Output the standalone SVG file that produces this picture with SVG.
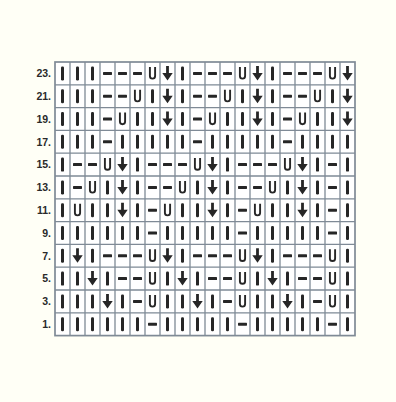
<svg xmlns="http://www.w3.org/2000/svg" xmlns:xlink="http://www.w3.org/1999/xlink" width="396" height="402" viewBox="0 0 396 402">
<style>
.lbl{font-family:"Liberation Sans",Arial,sans-serif;font-size:10.5px;font-weight:bold;fill:#2a2a2a;text-anchor:end}
.grid{stroke:#7f8a96;stroke-width:1.3;fill:none}
.sym{fill:#262626}
</style>
<defs>
<rect id="b" x="-1.5" y="-7" width="3" height="14" rx="1.2" class="sym"/>
<rect id="d" x="-4.5" y="-1.5" width="9" height="3" rx="0.6" class="sym"/>
<path id="u" d="M-2.6,-6.5 V2.6 A2.6,2.6 0 0 0 2.6,2.6 V-6.5" fill="none" stroke="#262626" stroke-width="1.9"/>
<path id="a" d="M-1.4,-7.5 H1.4 V-0.5 H5.2 L0,7 L-5.2,-0.5 H-1.4 Z" class="sym"/>
</defs>
<rect width="396" height="402" fill="#fffff6"/>
<rect x="55" y="62" width="300" height="273.6" fill="#ffffff"/>
<g id="gridlines" class="grid">
<rect x="55" y="62" width="300" height="273.6" stroke-width="1.7"/>
<path d="M70,62V335.6M85,62V335.6M100,62V335.6M115,62V335.6M130,62V335.6M145,62V335.6M160,62V335.6M175,62V335.6M190,62V335.6M205,62V335.6M220,62V335.6M235,62V335.6M250,62V335.6M265,62V335.6M280,62V335.6M295,62V335.6M310,62V335.6M325,62V335.6M340,62V335.6"/>
<path d="M55,84.8H355M55,107.6H355M55,130.4H355M55,153.2H355M55,176H355M55,198.8H355M55,221.6H355M55,244.4H355M55,267.2H355M55,290H355M55,312.8H355"/>
</g>
<g id="labels">
<text class="lbl" x="51" y="77.2">23.</text>
<text class="lbl" x="51" y="100">21.</text>
<text class="lbl" x="51" y="122.8">19.</text>
<text class="lbl" x="51" y="145.6">17.</text>
<text class="lbl" x="51" y="168.4">15.</text>
<text class="lbl" x="51" y="191.2">13.</text>
<text class="lbl" x="51" y="214">11.</text>
<text class="lbl" x="51" y="236.8">9.</text>
<text class="lbl" x="51" y="259.6">7.</text>
<text class="lbl" x="51" y="282.4">5.</text>
<text class="lbl" x="51" y="305.2">3.</text>
<text class="lbl" x="51" y="328">1.</text>
</g>
<g id="row23" transform="translate(0,73.4)">
<use href="#b" x="62.5"/><use href="#b" x="77.5"/><use href="#b" x="92.5"/><use href="#d" x="107.5"/><use href="#d" x="122.5"/><use href="#d" x="137.5"/><use href="#u" x="152.5"/><use href="#a" x="167.5"/><use href="#b" x="182.5"/><use href="#d" x="197.5"/><use href="#d" x="212.5"/><use href="#d" x="227.5"/><use href="#u" x="242.5"/><use href="#a" x="257.5"/><use href="#b" x="272.5"/><use href="#d" x="287.5"/><use href="#d" x="302.5"/><use href="#d" x="317.5"/><use href="#u" x="332.5"/><use href="#a" x="347.5"/>
</g>
<g id="row21" transform="translate(0,96.2)">
<use href="#b" x="62.5"/><use href="#b" x="77.5"/><use href="#b" x="92.5"/><use href="#d" x="107.5"/><use href="#d" x="122.5"/><use href="#u" x="137.5"/><use href="#b" x="152.5"/><use href="#a" x="167.5"/><use href="#b" x="182.5"/><use href="#d" x="197.5"/><use href="#d" x="212.5"/><use href="#u" x="227.5"/><use href="#b" x="242.5"/><use href="#a" x="257.5"/><use href="#b" x="272.5"/><use href="#d" x="287.5"/><use href="#d" x="302.5"/><use href="#u" x="317.5"/><use href="#b" x="332.5"/><use href="#a" x="347.5"/>
</g>
<g id="row19" transform="translate(0,119)">
<use href="#b" x="62.5"/><use href="#b" x="77.5"/><use href="#b" x="92.5"/><use href="#d" x="107.5"/><use href="#u" x="122.5"/><use href="#b" x="137.5"/><use href="#b" x="152.5"/><use href="#a" x="167.5"/><use href="#b" x="182.5"/><use href="#d" x="197.5"/><use href="#u" x="212.5"/><use href="#b" x="227.5"/><use href="#b" x="242.5"/><use href="#a" x="257.5"/><use href="#b" x="272.5"/><use href="#d" x="287.5"/><use href="#u" x="302.5"/><use href="#b" x="317.5"/><use href="#b" x="332.5"/><use href="#a" x="347.5"/>
</g>
<g id="row17" transform="translate(0,141.8)">
<use href="#b" x="62.5"/><use href="#b" x="77.5"/><use href="#b" x="92.5"/><use href="#d" x="107.5"/><use href="#b" x="122.5"/><use href="#b" x="137.5"/><use href="#b" x="152.5"/><use href="#b" x="167.5"/><use href="#b" x="182.5"/><use href="#d" x="197.5"/><use href="#b" x="212.5"/><use href="#b" x="227.5"/><use href="#b" x="242.5"/><use href="#b" x="257.5"/><use href="#b" x="272.5"/><use href="#d" x="287.5"/><use href="#b" x="302.5"/><use href="#b" x="317.5"/><use href="#b" x="332.5"/><use href="#b" x="347.5"/>
</g>
<g id="row15" transform="translate(0,164.6)">
<use href="#b" x="62.5"/><use href="#d" x="77.5"/><use href="#d" x="92.5"/><use href="#u" x="107.5"/><use href="#a" x="122.5"/><use href="#b" x="137.5"/><use href="#d" x="152.5"/><use href="#d" x="167.5"/><use href="#d" x="182.5"/><use href="#u" x="197.5"/><use href="#a" x="212.5"/><use href="#b" x="227.5"/><use href="#d" x="242.5"/><use href="#d" x="257.5"/><use href="#d" x="272.5"/><use href="#u" x="287.5"/><use href="#a" x="302.5"/><use href="#b" x="317.5"/><use href="#d" x="332.5"/><use href="#b" x="347.5"/>
</g>
<g id="row13" transform="translate(0,187.4)">
<use href="#b" x="62.5"/><use href="#d" x="77.5"/><use href="#u" x="92.5"/><use href="#b" x="107.5"/><use href="#a" x="122.5"/><use href="#b" x="137.5"/><use href="#d" x="152.5"/><use href="#d" x="167.5"/><use href="#u" x="182.5"/><use href="#b" x="197.5"/><use href="#a" x="212.5"/><use href="#b" x="227.5"/><use href="#d" x="242.5"/><use href="#d" x="257.5"/><use href="#u" x="272.5"/><use href="#b" x="287.5"/><use href="#a" x="302.5"/><use href="#b" x="317.5"/><use href="#d" x="332.5"/><use href="#b" x="347.5"/>
</g>
<g id="row11" transform="translate(0,210.2)">
<use href="#b" x="62.5"/><use href="#u" x="77.5"/><use href="#b" x="92.5"/><use href="#b" x="107.5"/><use href="#a" x="122.5"/><use href="#b" x="137.5"/><use href="#d" x="152.5"/><use href="#u" x="167.5"/><use href="#b" x="182.5"/><use href="#b" x="197.5"/><use href="#a" x="212.5"/><use href="#b" x="227.5"/><use href="#d" x="242.5"/><use href="#u" x="257.5"/><use href="#b" x="272.5"/><use href="#b" x="287.5"/><use href="#a" x="302.5"/><use href="#b" x="317.5"/><use href="#d" x="332.5"/><use href="#b" x="347.5"/>
</g>
<g id="row9" transform="translate(0,233)">
<use href="#b" x="62.5"/><use href="#b" x="77.5"/><use href="#b" x="92.5"/><use href="#b" x="107.5"/><use href="#b" x="122.5"/><use href="#b" x="137.5"/><use href="#d" x="152.5"/><use href="#b" x="167.5"/><use href="#b" x="182.5"/><use href="#b" x="197.5"/><use href="#b" x="212.5"/><use href="#b" x="227.5"/><use href="#d" x="242.5"/><use href="#b" x="257.5"/><use href="#b" x="272.5"/><use href="#b" x="287.5"/><use href="#b" x="302.5"/><use href="#b" x="317.5"/><use href="#d" x="332.5"/><use href="#b" x="347.5"/>
</g>
<g id="row7" transform="translate(0,255.8)">
<use href="#b" x="62.5"/><use href="#a" x="77.5"/><use href="#b" x="92.5"/><use href="#d" x="107.5"/><use href="#d" x="122.5"/><use href="#d" x="137.5"/><use href="#u" x="152.5"/><use href="#a" x="167.5"/><use href="#b" x="182.5"/><use href="#d" x="197.5"/><use href="#d" x="212.5"/><use href="#d" x="227.5"/><use href="#u" x="242.5"/><use href="#a" x="257.5"/><use href="#b" x="272.5"/><use href="#d" x="287.5"/><use href="#d" x="302.5"/><use href="#d" x="317.5"/><use href="#u" x="332.5"/><use href="#b" x="347.5"/>
</g>
<g id="row5" transform="translate(0,278.6)">
<use href="#b" x="62.5"/><use href="#b" x="77.5"/><use href="#a" x="92.5"/><use href="#b" x="107.5"/><use href="#d" x="122.5"/><use href="#d" x="137.5"/><use href="#u" x="152.5"/><use href="#b" x="167.5"/><use href="#a" x="182.5"/><use href="#b" x="197.5"/><use href="#d" x="212.5"/><use href="#d" x="227.5"/><use href="#u" x="242.5"/><use href="#b" x="257.5"/><use href="#a" x="272.5"/><use href="#b" x="287.5"/><use href="#d" x="302.5"/><use href="#d" x="317.5"/><use href="#u" x="332.5"/><use href="#b" x="347.5"/>
</g>
<g id="row3" transform="translate(0,301.4)">
<use href="#b" x="62.5"/><use href="#b" x="77.5"/><use href="#b" x="92.5"/><use href="#a" x="107.5"/><use href="#b" x="122.5"/><use href="#d" x="137.5"/><use href="#u" x="152.5"/><use href="#b" x="167.5"/><use href="#b" x="182.5"/><use href="#a" x="197.5"/><use href="#b" x="212.5"/><use href="#d" x="227.5"/><use href="#u" x="242.5"/><use href="#b" x="257.5"/><use href="#b" x="272.5"/><use href="#a" x="287.5"/><use href="#b" x="302.5"/><use href="#d" x="317.5"/><use href="#u" x="332.5"/><use href="#b" x="347.5"/>
</g>
<g id="row1" transform="translate(0,324.2)">
<use href="#b" x="62.5"/><use href="#b" x="77.5"/><use href="#b" x="92.5"/><use href="#b" x="107.5"/><use href="#b" x="122.5"/><use href="#b" x="137.5"/><use href="#d" x="152.5"/><use href="#b" x="167.5"/><use href="#b" x="182.5"/><use href="#b" x="197.5"/><use href="#b" x="212.5"/><use href="#b" x="227.5"/><use href="#d" x="242.5"/><use href="#b" x="257.5"/><use href="#b" x="272.5"/><use href="#b" x="287.5"/><use href="#b" x="302.5"/><use href="#b" x="317.5"/><use href="#d" x="332.5"/><use href="#b" x="347.5"/>
</g>
</svg>
